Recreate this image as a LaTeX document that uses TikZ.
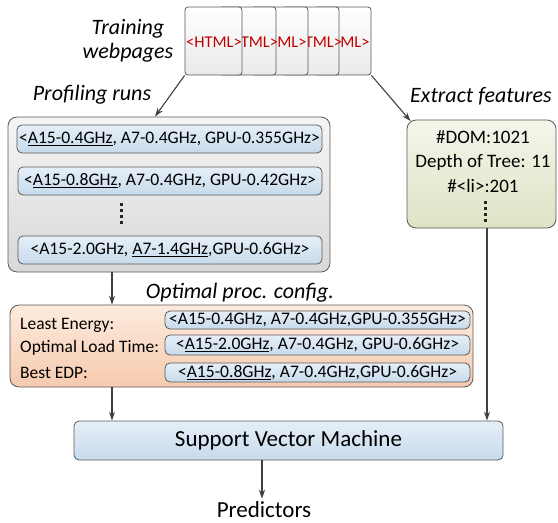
\documentclass[tikz,border=0pt]{standalone}
\usepackage{fontspec}
\setmainfont{Carlito}
\usetikzlibrary{arrows.meta,calc}
\definecolor{edgegray}{HTML}{595959}
\definecolor{arrgray}{HTML}{404040}
\definecolor{bluetop}{HTML}{E6EFF8}
\definecolor{bluebot}{HTML}{C7DAEB}
\definecolor{graytop}{HTML}{F5F5F5}
\definecolor{graybot}{HTML}{D8D8D8}
\definecolor{greentop}{HTML}{F4F6EA}
\definecolor{greenbot}{HTML}{DCE3C4}
\definecolor{orangetop}{HTML}{FDEBDE}
\definecolor{orangebot}{HTML}{F6CAAE}
\definecolor{htmlred}{HTML}{C00000}
\tikzset{
  arr/.style={draw=arrgray, line width=1.1pt, -{Stealth[length=9pt,width=6pt]}},
  lbl/.style={font=\fontsize{22}{24}\selectfont\itshape, inner sep=0pt},
  bluebox/.style={draw=edgegray, line width=0.8pt, rounded corners=5pt, top color=bluetop, bottom color=bluebot, inner sep=0pt, font=\fontsize{17.6}{19}\selectfont},
  outerbox/.style={draw=edgegray, line width=0.8pt, rounded corners=9pt, inner sep=0pt},
  page/.style={draw=edgegray, line width=0.8pt, rounded corners=3pt, top color=white, bottom color=graytop!60!graybot, minimum width=57pt, minimum height=68pt, inner sep=0pt},
  pagetext/.style={text=htmlred, font=\fontsize{16.5}{18}\selectfont, inner sep=0pt},
  rowlbl/.style={font=\fontsize{17.5}{19}\selectfont, inner sep=0pt, anchor=west},
  dotmark/.style={fill=black!85, draw=none}
}
\begin{document}
\begin{tikzpicture}[x=1pt,y=-1pt]
\useasboundingbox (0,0) rectangle (558,523);

% webpages stack
\node[page] (page5) at (342.5,41) {};
\node[pagetext] (t5) at (355,42) {ML>};
\node[page] (page4) at (310.5,41) {};
\node[pagetext] (t4) at (323.5,42) {TML>};
\node[page] (page3) at (279.5,41) {};
\node[pagetext] (t3) at (292,42) {ML>};
\node[page] (page2) at (247.5,41) {};
\node[pagetext] (t2) at (259.5,42) {TML>};
\node[page] (page1) at (213.5,41) {};
\node[pagetext] (t1) at (214,42) {<HTML>};

\node[lbl, align=center] (train) at (128,41) {Training\\webpages};

% labels
\node[lbl] (proflbl) at (92,95) {Profiling runs};
\node[lbl] (extlbl) at (481,96) {Extract features};
\node[lbl] (optlbl) at (240,293) {Optimal proc. config.};

% profiling box
\node[outerbox, top color=graytop, bottom color=graybot, minimum width=322pt, minimum height=155pt] (prof) at (169,194.5) {};
\node[bluebox, minimum width=305pt, minimum height=28pt] (r1) at (169.5,139) {<\underline{A15-0.4GHz}, A7-0.4GHz, GPU-0.355GHz>};
\node[bluebox, minimum width=304pt, minimum height=28pt] (r2) at (170,181) {<\underline{A15-0.8GHz}, A7-0.4GHz, GPU-0.42GHz>};
\foreach \yy in {203,209,215,221} {\fill[dotmark] (120,\yy) rectangle (122.5,\yy+2.5);}
\node[bluebox, minimum width=304pt, minimum height=28pt] (r3) at (170,250) {<A15-2.0GHz, \underline{A7-1.4GHz},GPU-0.6GHz>};

% features box
\node[outerbox, top color=greentop, bottom color=greenbot, minimum width=149pt, minimum height=108pt] (feat) at (481.5,174) {};
\node[font=\fontsize{19}{21}\selectfont, inner sep=0pt] (f1) at (483,137) {\#DOM:1021};
\node[font=\fontsize{19}{21}\selectfont, inner sep=0pt] (f2) at (483,162) {Depth of Tree: 11};
\node[font=\fontsize{19}{21}\selectfont, inner sep=0pt] (f3) at (483,186) {\#<li>:201};
\foreach \yy in {201,207,213,219} {\fill[dotmark] (484,\yy) rectangle (486.5,\yy+2.5);}

% optimal config box
\node[outerbox, top color=orangetop, bottom color=orangebot, minimum width=463pt, minimum height=82pt] (opt) at (241.5,346) {};
\node[rowlbl] (l1) at (20,325) {Least Energy:};
\node[rowlbl] (l2) at (20,348) {Optimal Load Time:};
\node[rowlbl] (l3) at (20,373) {Best EDP:};
\node[bluebox, minimum width=305pt, minimum height=18pt] (o1) at (317.5,320) {<A15-0.4GHz, A7-0.4GHz,GPU-0.355GHz>};
\node[bluebox, minimum width=305pt, minimum height=20pt] (o2) at (317.5,345) {<\underline{A15-2.0GHz}, A7-0.4GHz, GPU-0.6GHz>};
\node[bluebox, minimum width=305pt, minimum height=19pt] (o3) at (317.5,372.5) {<\underline{A15-0.8GHz}, A7-0.4GHz,GPU-0.6GHz>};

% SVM
\node[bluebox, minimum width=429pt, minimum height=39pt, font=\fontsize{23}{25}\selectfont] (svm) at (288.5,440.5) {Support Vector Machine};
\node[font=\fontsize{23}{25}\selectfont, inner sep=0pt] (pred) at (264,510) {Predictors};

% connectors
\coordinate (cx1) at (112,0);
\coordinate (cx2) at (487,0);
\coordinate (cx3) at (262,0);
\draw[arr] (page1.south west) -- ($(prof.north)+(-14,0)$);
\draw[arr] (page5.south east) -- ($(feat.north west)+(4,1.5)$);
\draw[arr] (prof.south -| cx1) -- (opt.north -| cx1);
\draw[arr] (opt.south -| cx1) -- (svm.north -| cx1);
\draw[arr] (feat.south -| cx2) -- (svm.north -| cx2);
\draw[arr] (svm.south -| cx3) -- ($(pred.north -| cx3)+(0,-3)$);
\end{tikzpicture}
\end{document}
